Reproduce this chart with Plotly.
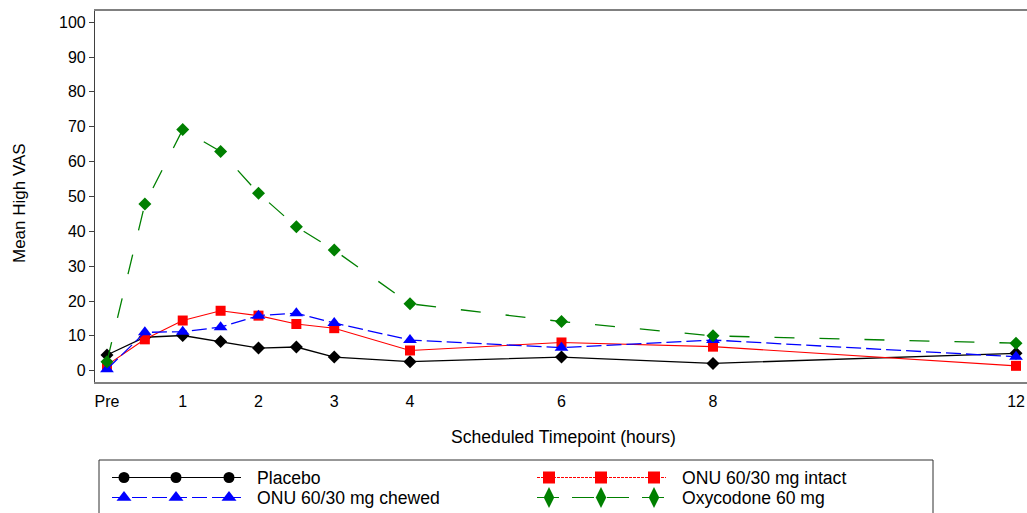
import plotly.graph_objects as go

# ---------------- data ----------------
hours = [0, 0.5, 1, 1.5, 2, 2.5, 3, 4, 6, 8, 12]
tick_vals = [0, 1, 2, 3, 4, 6, 8, 12]
tick_text = ["Pre", "1", "2", "3", "4", "6", "8", "12"]

placebo = [4.5, 9.6, 10.1, 8.4, 6.5, 6.8, 3.9, 2.6, 3.9, 2.1, 5.0]
onu_intact = [1.6, 9.0, 14.4, 17.2, 15.8, 13.4, 12.2, 5.8, 8.1, 6.9, 1.4]
onu_chewed = [0.4, 11.0, 11.2, 12.5, 15.8, 16.5, 13.7, 8.8, 6.6, 8.8, 4.0]
oxycodone = [2.6, 47.8, 69.2, 62.9, 50.9, 41.3, 34.6, 19.2, 14.1, 10.0, 7.9]

series_names = ["Placebo", "ONU 60/30 mg intact", "ONU 60/30 mg chewed", "Oxycodone 60 mg"]

# ---------------- layout geometry (pixels) ----------------
W, H = 1027, 513
ML, MT = 95, 11
PW, PH = W - ML, H - MT
FONT = "Liberation Sans, Arial, sans-serif"

def px_x(p):
    return (p - ML) / PW

def px_y(p):
    return (H - p) / PH

styles = {
    "Placebo": dict(color="black", width=1.3, dash="solid", symbol="diamond", size=10, lsym="circle", lsize=11, ldash="solid"),
    "ONU 60/30 mg intact": dict(color="#ff0000", width=1.1, dash="solid", symbol="square", size=10, lsym="square", lsize=12, ldash="3px,1px"),
    "ONU 60/30 mg chewed": dict(color="#0000ff", width=1.3, dash="15px,5px", symbol="triangle-up", size=12, lsym="triangle-up", lsize=13, ldash="15px,5px"),
    "Oxycodone 60 mg": dict(color="#008000", width=1.3, dash="20px,25px", symbol="diamond", size=10, lsym="diamond-tall", lsize=15, ldash="22px,13px"),
}
values = {
    "Placebo": placebo,
    "ONU 60/30 mg intact": onu_intact,
    "ONU 60/30 mg chewed": onu_chewed,
    "Oxycodone 60 mg": oxycodone,
}

fig = go.Figure()
for name in series_names:
    s = styles[name]
    fig.add_trace(go.Scatter(
        x=hours, y=values[name], mode="lines+markers", name=name,
        line=dict(color=s["color"], width=s["width"], dash=s["dash"]),
        marker=dict(symbol=s["symbol"], size=s["size"], color=s["color"]),
        showlegend=False, xaxis="x", yaxis="y", cliponaxis=False,
    ))

# ---------------- custom legend (decoration, pixel coordinates) ----------------
legend_pos = {
    "Placebo": (124, 477.5),
    "ONU 60/30 mg chewed": (124, 497.5),
    "ONU 60/30 mg intact": (549, 477.5),
    "Oxycodone 60 mg": (549, 497.5),
}
for name in series_names:
    s = styles[name]
    x0, y0 = legend_pos[name]
    xs = [x0 - 12, x0, x0 + 52, x0 + 105, x0 + 117]
    fig.add_trace(go.Scatter(
        x=xs, y=[y0] * 5, mode="lines", showlegend=False, hoverinfo="skip",
        line=dict(color=s["color"], width=1.2, dash=s["ldash"]),
        xaxis="x2", yaxis="y2",
    ))
    fig.add_trace(go.Scatter(
        x=xs[1:4], y=[y0] * 3, mode="markers", showlegend=False, hoverinfo="skip",
        marker=dict(symbol=s["lsym"], size=s["lsize"], color=s["color"]),
        xaxis="x2", yaxis="y2", cliponaxis=False,
    ))
    fig.add_annotation(x=x0 + 131, y=y0, xref="x2", yref="y2", text=name,
                       showarrow=False, xanchor="left", yanchor="middle",
                       font=dict(family=FONT, size=17.6, color="black"))

fig.add_shape(type="rect", xref="x2", yref="y2", x0=99, x1=933, y0=460, y1=530,
              line=dict(color="#303030", width=1), fillcolor="rgba(0,0,0,0)")

# ---------------- axes ----------------
y_dom0 = px_y(382)
fig.update_layout(
    width=W, height=H,
    margin=dict(l=ML, r=0, t=MT, b=0, pad=0),
    paper_bgcolor="white", plot_bgcolor="white",
    font=dict(family=FONT, size=16, color="black"),
    xaxis=dict(
        domain=[0, 1], range=[-0.158, 12.145],
        tickmode="array", tickvals=tick_vals, ticktext=tick_text,
        ticks="", showgrid=False, zeroline=False,
        showline=True, linecolor="#808080", linewidth=1.5, mirror=True,
        tickfont=dict(size=16), anchor="y", ticklabelstandoff=4,
    ),
    yaxis=dict(
        domain=[y_dom0, 1], range=[-3.24, 103.2],
        tickmode="array", tickvals=list(range(0, 101, 10)),
        ticks="outside", ticklen=5, tickcolor="#404040", tickwidth=1,
        showgrid=False, zeroline=False,
        showline=True, linecolor="#404040", linewidth=1.2, mirror=False,
        tickfont=dict(size=16), anchor="x",
    ),
    xaxis2=dict(domain=[0, 1], range=[ML, W], visible=False, anchor="y2", fixedrange=True),
    yaxis2=dict(domain=[0, y_dom0], range=[H, 382], visible=False, anchor="x2", fixedrange=True),
)

fig.add_annotation(x=px_x(563), y=px_y(437), xref="paper", yref="paper",
                   text="Scheduled Timepoint (hours)", showarrow=False,
                   xanchor="center", yanchor="middle", font=dict(family=FONT, size=17.6))
fig.add_annotation(x=px_x(19), y=px_y(203), xref="paper", yref="paper",
                   text="Mean High VAS", showarrow=False, textangle=-90,
                   xanchor="center", yanchor="middle", font=dict(family=FONT, size=17))

fig.write_html("out.html")
